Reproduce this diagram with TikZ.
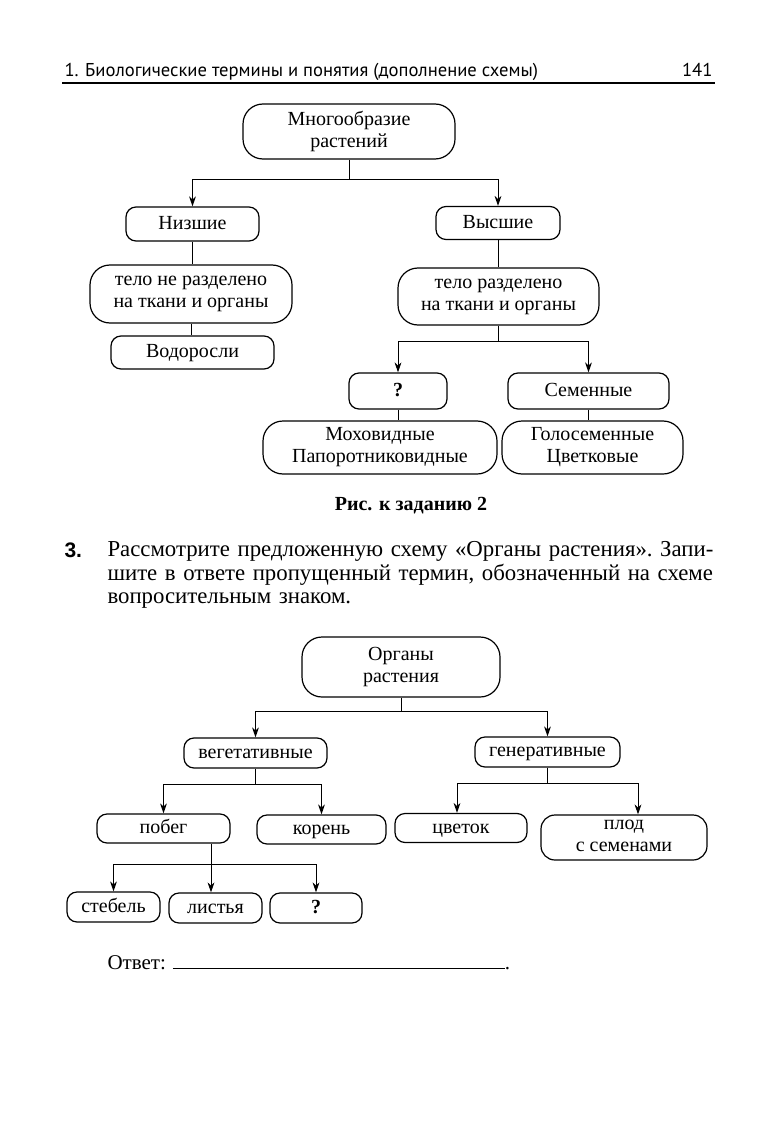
\documentclass[tikz,border=0pt]{standalone}
\usepackage{fontspec}
\setmainfont{Liberation Serif}
\setsansfont{PT Sans}
\newfontfamily\numfont{Liberation Sans}
\usetikzlibrary{arrows.meta}
\newcommand\boxstrut{\rule[-2pt]{0pt}{9pt}}

\begin{document}
\begin{tikzpicture}[x=0.5pt,y=-0.5pt,>={Stealth[length=5pt,width=3.4pt]},
  line width=0.5pt,
  box/.style={draw,line width=0.6pt,rounded corners=5pt,align=center,
    inner sep=0pt,font=\fontsize{10}{11}\selectfont,
    execute at begin node=\boxstrut,execute at end node=\boxstrut},
  bigbox/.style={box,rounded corners=10pt},
  headtext/.style={inner sep=0pt,font=\sffamily\fontsize{9.3}{11}\selectfont}]

\useasboundingbox (0,0) rectangle (774,1134);

% page head
\node[headtext,anchor=base west] (head) at (64,77) {1. Биологические термины и понятия (дополнение схемы)};
\node[headtext,anchor=base east] (page) at (713,77) {141};
\draw[line width=0.6pt] (62,83) -- (715,83);

% figure for task 2
\node[bigbox,minimum width=106pt,minimum height=27.5pt] (p_1) at (349,131.5) {Многообразие\\растений};
\node[box,minimum width=66.5pt,minimum height=17pt] (p_2) at (192.5,224) {Низшие};
\node[box,minimum width=62pt,minimum height=16.5pt] (p_3) at (498,223) {Высшие};
\node[bigbox,minimum width=101pt,minimum height=29pt] (p_4) at (191,294) {тело не разделено\\на ткани и органы};
\node[box,minimum width=81.5pt,minimum height=16.5pt] (p_5) at (192.5,352.5) {Водоросли};
\node[bigbox,minimum width=100.5pt,minimum height=28.5pt] (p_6) at (498.5,296.5) {тело разделено\\на ткани и органы};
\node[box,minimum width=49pt,minimum height=18pt] (p_7) at (398,391) {\textbf{?}};
\node[box,minimum width=80.5pt,minimum height=18pt] (p_8) at (588.5,391) {Семенные};
\node[bigbox,minimum width=117pt,minimum height=26.5pt] (p_9) at (380,447.5) {Моховидные\\Папоротниковидные};
\node[bigbox,minimum width=90.5pt,minimum height=26.5pt] (p_10) at (592.5,447.5) {Голосеменные\\Цветковые};

\draw[->] (p_1.south) -- ++(0,20) -| (p_2.north);
\draw[->] (p_1.south) ++(0,20) -| (p_3.north);
\draw (p_2.south) -- (p_2.south |- p_4.north);
\draw (p_4.south) -- (p_4.south |- p_5.north);
\draw (p_3.south) -- (p_3.south |- p_6.north);
\draw[->] (p_6.south) -- ++(0,16) -| (p_7.north);
\draw[->] (p_6.south) ++(0,16) -| (p_8.north);
\draw (p_7.south) -- (p_7.south |- p_9.north);
\draw (p_8.south) -- (p_8.south |- p_10.north);

\node[font=\bfseries\fontsize{10}{12}\selectfont] (cap) at (411,506) {Рис. к заданию 2};

% task 3
\node[anchor=base west,inner sep=0pt,font=\numfont\bfseries\fontsize{10.5}{12}\selectfont] (num) at (64,557) {3.};
\node[anchor=north west,inner sep=0pt,text width=304pt,align=left,
  font=\fontsize{11.4}{11.75}\selectfont\frenchspacing] (task) at (107,541)
  {\makebox[\linewidth][s]{Рассмотрите предложенную схему «Органы растения». Запи-}\\
   \makebox[\linewidth][s]{шите в ответе пропущенный термин, обозначенный на схеме}\\
   вопросительным знаком.};

% figure for task 3
\node[bigbox,minimum width=99pt,minimum height=30pt] (o_1) at (401,667) {Органы\\растения};
\node[box,minimum width=71.5pt,minimum height=15pt] (o_2) at (255.5,753) {вегетативные};
\node[box,minimum width=72.5pt,minimum height=15pt] (o_3) at (547.5,752) {генеративные};
\node[box,minimum width=66.5pt,minimum height=14.5pt] (o_4) at (163.5,828.5) {побег};
\node[box,minimum width=64.5pt,minimum height=14.5pt] (o_5) at (321.5,829.5) {корень};
\node[box,minimum width=66pt,minimum height=14.5pt] (o_6) at (461,828) {цветок};
\node[box,rounded corners=7pt,minimum width=83pt,minimum height=22.5pt] (o_7) at (624,837.5) {плод\\с семенами};
\node[box,minimum width=46.5pt,minimum height=15pt] (o_8) at (113.5,907) {стебель};
\node[box,minimum width=46.5pt,minimum height=15pt] (o_9) at (215.5,908) {листья};
\node[box,minimum width=46pt,minimum height=15pt] (o_10) at (316,908) {\textbf{?}};

\draw[->] (o_1.south) -- ++(0,14) -| (o_2.north);
\draw[->] (o_1.south) ++(0,14) -| (o_3.north);
\draw[->] (o_2.south) -- ++(0,16) -| (o_4.north);
\draw[->] (o_2.south) ++(0,16) -| (o_5.north);
\draw[->] (o_3.south) -- ++(0,16) -| ([xshift=-2pt]o_6.north);
\draw[->] (o_3.south) ++(0,16) -| ([xshift=7pt]o_7.north);
\coordinate (fork) at (211,864);
\draw (o_4.south -| fork) -- (fork);
\draw[->] (fork) -| (o_8.north);
\draw[->] (fork) -- (fork |- o_9.north);
\draw[->] (fork) -| (o_10.north);

\node[anchor=base west,inner sep=0pt,font=\fontsize{10.5}{12}\selectfont] (answer) at (107,969)
  {Ответ: \rule{166pt}{0.4pt}.};

\end{tikzpicture}
\end{document}
